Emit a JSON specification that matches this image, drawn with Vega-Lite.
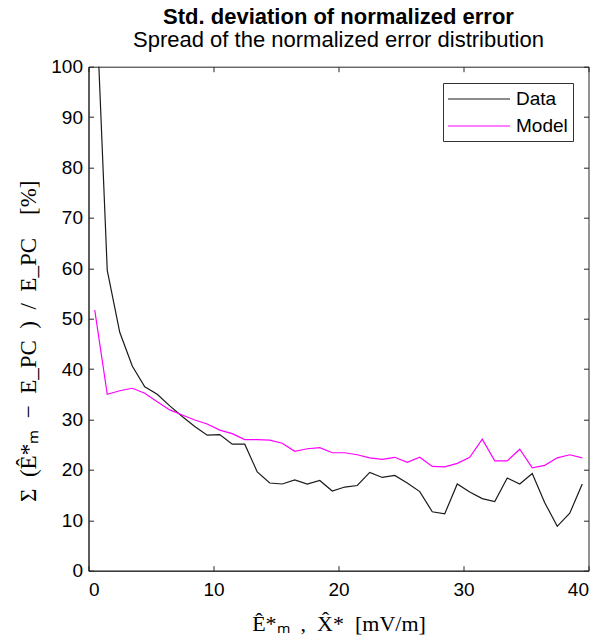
{
  "$schema": "https://vega.github.io/schema/vega-lite/v6.json",
  "autosize": {"type": "none"},
  "width": 500,
  "height": 504,
  "padding": {"left": 88.5, "top": 66.7, "right": 11.5, "bottom": 70.3},
  "background": "white",
  "config": {
    "view": {"stroke": "#262626", "strokeWidth": 1},
    "font": "Liberation Sans"
  },
  "title": {
    "text": "Std. deviation of normalized error",
    "subtitle": "Spread of the normalized error distribution",
    "font": "Liberation Sans",
    "fontSize": 22,
    "fontWeight": "bold",
    "subtitleFont": "Liberation Sans",
    "subtitleFontSize": 22,
    "subtitleColor": "black",
    "color": "black",
    "anchor": "middle",
    "frame": "group",
    "offset": 6,
    "subtitlePadding": 1
  },
  "data": {
    "values": [
      {"x": 0.5, "value": 120, "series": "Data"},
      {"x": 1.5, "value": 59.6, "series": "Data"},
      {"x": 2.5, "value": 47.3, "series": "Data"},
      {"x": 3.5, "value": 40.6, "series": "Data"},
      {"x": 4.5, "value": 36.5, "series": "Data"},
      {"x": 5.5, "value": 35.0, "series": "Data"},
      {"x": 6.5, "value": 32.7, "series": "Data"},
      {"x": 7.5, "value": 30.6, "series": "Data"},
      {"x": 8.5, "value": 28.6, "series": "Data"},
      {"x": 9.5, "value": 26.9, "series": "Data"},
      {"x": 10.5, "value": 27.0, "series": "Data"},
      {"x": 11.5, "value": 25.1, "series": "Data"},
      {"x": 12.5, "value": 25.1, "series": "Data"},
      {"x": 13.5, "value": 19.6, "series": "Data"},
      {"x": 14.5, "value": 17.4, "series": "Data"},
      {"x": 15.5, "value": 17.2, "series": "Data"},
      {"x": 16.5, "value": 18.0, "series": "Data"},
      {"x": 17.5, "value": 17.2, "series": "Data"},
      {"x": 18.5, "value": 17.9, "series": "Data"},
      {"x": 19.5, "value": 15.8, "series": "Data"},
      {"x": 20.5, "value": 16.6, "series": "Data"},
      {"x": 21.5, "value": 16.9, "series": "Data"},
      {"x": 22.5, "value": 19.5, "series": "Data"},
      {"x": 23.5, "value": 18.5, "series": "Data"},
      {"x": 24.5, "value": 18.9, "series": "Data"},
      {"x": 25.5, "value": 17.4, "series": "Data"},
      {"x": 26.5, "value": 15.7, "series": "Data"},
      {"x": 27.5, "value": 11.7, "series": "Data"},
      {"x": 28.5, "value": 11.3, "series": "Data"},
      {"x": 29.5, "value": 17.2, "series": "Data"},
      {"x": 30.5, "value": 15.6, "series": "Data"},
      {"x": 31.5, "value": 14.3, "series": "Data"},
      {"x": 32.5, "value": 13.7, "series": "Data"},
      {"x": 33.5, "value": 18.4, "series": "Data"},
      {"x": 34.5, "value": 17.2, "series": "Data"},
      {"x": 35.5, "value": 19.3, "series": "Data"},
      {"x": 36.5, "value": 13.5, "series": "Data"},
      {"x": 37.5, "value": 8.8, "series": "Data"},
      {"x": 38.5, "value": 11.4, "series": "Data"},
      {"x": 39.5, "value": 17.2, "series": "Data"},
      {"x": 0.5, "value": 51.7, "series": "Model"},
      {"x": 1.5, "value": 35.0, "series": "Model"},
      {"x": 2.5, "value": 35.7, "series": "Model"},
      {"x": 3.5, "value": 36.2, "series": "Model"},
      {"x": 4.5, "value": 35.2, "series": "Model"},
      {"x": 5.5, "value": 33.5, "series": "Model"},
      {"x": 6.5, "value": 31.9, "series": "Model"},
      {"x": 7.5, "value": 30.9, "series": "Model"},
      {"x": 8.5, "value": 29.9, "series": "Model"},
      {"x": 9.5, "value": 29.1, "series": "Model"},
      {"x": 10.5, "value": 27.9, "series": "Model"},
      {"x": 11.5, "value": 27.2, "series": "Model"},
      {"x": 12.5, "value": 26.0, "series": "Model"},
      {"x": 13.5, "value": 26.0, "series": "Model"},
      {"x": 14.5, "value": 25.9, "series": "Model"},
      {"x": 15.5, "value": 25.3, "series": "Model"},
      {"x": 16.5, "value": 23.7, "series": "Model"},
      {"x": 17.5, "value": 24.2, "series": "Model"},
      {"x": 18.5, "value": 24.4, "series": "Model"},
      {"x": 19.5, "value": 23.4, "series": "Model"},
      {"x": 20.5, "value": 23.4, "series": "Model"},
      {"x": 21.5, "value": 23.0, "series": "Model"},
      {"x": 22.5, "value": 22.4, "series": "Model"},
      {"x": 23.5, "value": 22.1, "series": "Model"},
      {"x": 24.5, "value": 22.5, "series": "Model"},
      {"x": 25.5, "value": 21.5, "series": "Model"},
      {"x": 26.5, "value": 22.5, "series": "Model"},
      {"x": 27.5, "value": 20.7, "series": "Model"},
      {"x": 28.5, "value": 20.6, "series": "Model"},
      {"x": 29.5, "value": 21.3, "series": "Model"},
      {"x": 30.5, "value": 22.5, "series": "Model"},
      {"x": 31.5, "value": 26.1, "series": "Model"},
      {"x": 32.5, "value": 21.8, "series": "Model"},
      {"x": 33.5, "value": 21.8, "series": "Model"},
      {"x": 34.5, "value": 24.1, "series": "Model"},
      {"x": 35.5, "value": 20.4, "series": "Model"},
      {"x": 36.5, "value": 20.9, "series": "Model"},
      {"x": 37.5, "value": 22.4, "series": "Model"},
      {"x": 38.5, "value": 23.0, "series": "Model"},
      {"x": 39.5, "value": 22.4, "series": "Model"}
    ]
  },
  "layer": [
    {
      "mark": {"type": "line", "clip": true, "strokeWidth": 1.2},
      "encoding": {
        "x": {
          "field": "x", "type": "quantitative",
          "scale": {"domain": [0, 40], "nice": false},
          "axis": {
            "values": [0, 10, 20, 30, 40],
            "title": "Ê*ₘ\u2002,\u2002X̂*\u2002[mV/m]",
            "titleFont": "Liberation Serif",
            "titleFontWeight": "normal",
            "titleFontSize": 22,
            "titleColor": "black",
            "titleY": 60,
            "titleBaseline": "alphabetic",
            "labelFont": "Liberation Sans",
            "labelFontSize": 19,
            "labelColor": "black",
            "labelPadding": 15,
            "tickSize": -5,
            "tickColor": "#262626",
            "domainColor": "#262626",
            "grid": false
          }
        },
        "y": {
          "field": "value", "type": "quantitative",
          "scale": {"domain": [0, 100], "nice": false},
          "axis": {
            "values": [0, 10, 20, 30, 40, 50, 60, 70, 80, 90, 100],
            "title": "Σ\u2002(Ê*ₘ\u2002−\u2002E_PC\u2002)\u2002/\u2002E_PC\u2003[%]",
            "titleFont": "Liberation Serif",
            "titleFontWeight": "normal",
            "titleFontSize": 23,
            "titleColor": "black",
            "titleX": -60,
            "titleY": 274,
            "titleAlign": "center",
            "titleBaseline": "middle",
            "labelFont": "Liberation Sans",
            "labelFontSize": 19,
            "labelColor": "black",
            "labelPadding": 11,
            "tickSize": -5,
            "tickColor": "#262626",
            "domainColor": "#262626",
            "grid": false
          }
        },
        "color": {
          "field": "series", "type": "nominal",
          "scale": {"domain": ["Data", "Model"], "range": ["#1a1a1a", "#ff00ff"]},
          "legend": {
            "title": null,
            "orient": "none",
            "legendX": 354.5,
            "legendY": 16.3,
            "symbolType": "M-3.1,0H3.1",
            "symbolSize": 400,
            "symbolOffset": 20,
            "symbolStrokeWidth": 1.2,
            "symbolFillColor": "transparent",
            "labelFont": "Liberation Sans",
            "labelFontSize": 19,
            "labelColor": "black",
            "strokeColor": "#333",
            "fillColor": "white",
            "padding": 5,
            "rowPadding": 6,
            "labelOffset": 26
          }
        }
      }
    },
    {
      "mark": {"type": "line", "opacity": 0, "clip": true},
      "encoding": {
        "x": {
          "field": "x", "type": "quantitative",
          "scale": {"domain": [0, 40], "nice": false},
          "axis": {"orient": "top", "values": [0, 10, 20, 30, 40], "labels": false, "title": null, "tickSize": -5, "tickColor": "#262626", "domain": false, "grid": false}
        },
        "y": {
          "field": "value", "type": "quantitative",
          "scale": {"domain": [0, 100], "nice": false},
          "axis": {"orient": "right", "values": [0, 10, 20, 30, 40, 50, 60, 70, 80, 90, 100], "labels": false, "title": null, "tickSize": -5, "tickColor": "#262626", "domain": false, "grid": false}
        }
      }
    }
  ],
  "resolve": {"axis": {"x": "independent", "y": "independent"}}
}
